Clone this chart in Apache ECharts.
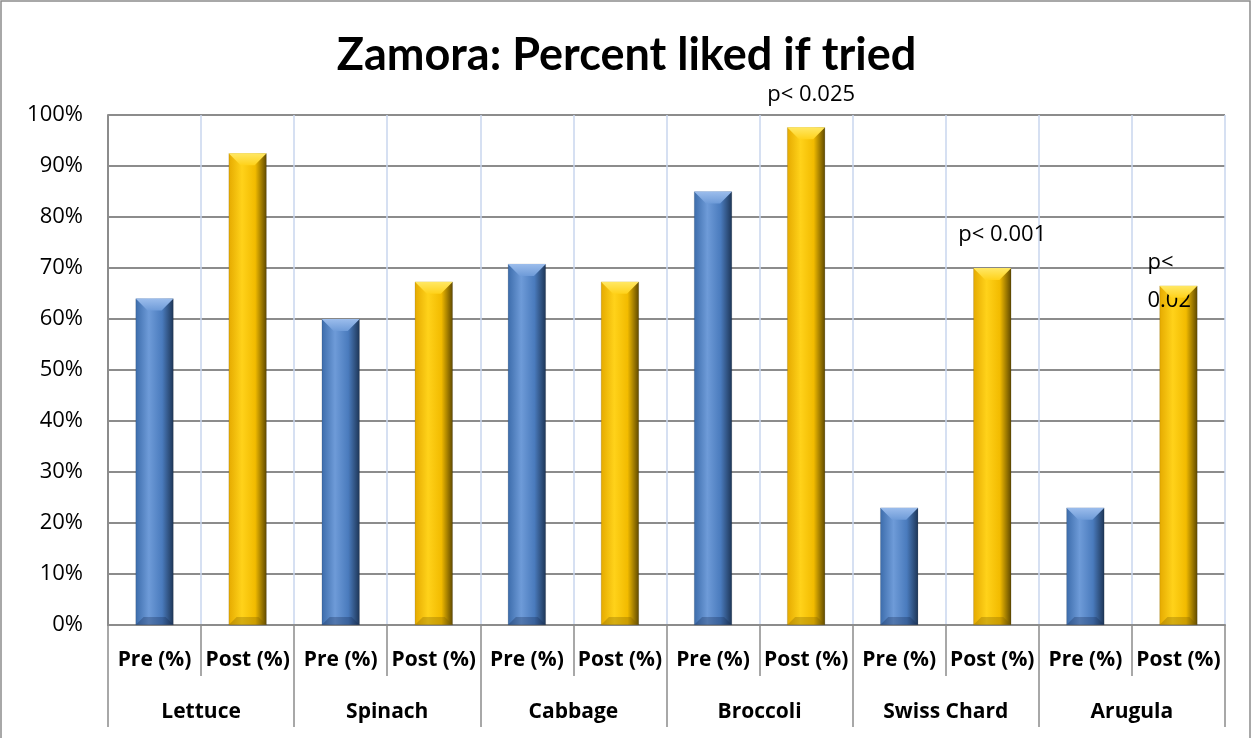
<!DOCTYPE html>
<html>
<head>
<meta charset="utf-8">
<script src="https://cdn.jsdelivr.net/npm/echarts@6/dist/echarts.min.js"></script>
<style>
  html, body { margin: 0; padding: 0; background: #fff; }
  #chart { width: 1253px; height: 738px; }
</style>
</head>
<body>
<div id="chart"></div>
<script>
// categories
const vegetables = ['Lettuce', 'Spinach', 'Cabbage', 'Broccoli', 'Swiss Chard', 'Arugula'];
const phases = ['Pre (%)', 'Post (%)'];
// values (percent)
const preValues = [64, 60, 70.8, 85, 23, 23];
const postValues = [92.5, 67.3, 67.3, 97.6, 70, 66.5];
// significance notes on Post bars
const notes = ['', '', '', 'p< 0.025', 'p< 0.001', 'p<\n0.02'];
const yTicks = [0, 10, 20, 30, 40, 50, 60, 70, 80, 90, 100];

const font = '"Open Sans", sans-serif';
const BAR_W = 38;

const blueFill = new echarts.graphic.LinearGradient(0, 0, 1, 0, [
  {offset: 0, color: '#3c6cab'},
  {offset: 0.35, color: '#6e9bd8'},
  {offset: 0.7, color: '#4a7bbd'},
  {offset: 1, color: '#1d3556'}
]);
const goldFill = new echarts.graphic.LinearGradient(0, 0, 1, 0, [
  {offset: 0, color: '#e5aa00'},
  {offset: 0.35, color: '#ffd21a'},
  {offset: 0.7, color: '#f2bb00'},
  {offset: 1, color: '#5e4800'}
]);

const labels12 = [];
const barData = [];
const capData = [];
vegetables.forEach((v, i) => {
  labels12.push(phases[0], phases[1]);
  barData.push({value: preValues[i], itemStyle: {color: blueFill}});
  capData.push([i * 2, preValues[i], 0]);
  const post = {value: postValues[i], itemStyle: {color: goldFill}};
  if (notes[i]) {
    const last = i === vegetables.length - 1;
    post.label = {
      show: true,
      formatter: notes[i],
      position: 'top',
      distance: last ? -34 : 14,
      offset: last ? [-31, 0] : [i === 4 ? 10 : 5, 0],
      align: last ? 'left' : 'center',
      fontSize: 22,
      lineHeight: 38,
      fontFamily: font,
      color: '#000'
    };
  }
  barData.push(post);
  capData.push([i * 2 + 1, postValues[i], 1]);
});

// bevel caps drawn on top of each bar
function renderCap(params, api) {
  const top = api.coord([api.value(0), api.value(1)]);
  const base = api.coord([api.value(0), 0]);
  const gold = api.value(2) === 1;
  const x = top[0] - BAR_W / 2;
  const b = 12;
  const light = gold ? '#ffe866' : '#9cbdec';
  const dark = gold ? 'rgba(120,90,0,0.3)' : 'rgba(20,40,80,0.3)';
  return {
    type: 'group',
    children: [{
      type: 'polygon',
      shape: {points: [[x, top[1]], [x + BAR_W, top[1]], [x + BAR_W - b, top[1] + b], [x + b, top[1] + b]]},
      style: {fill: new echarts.graphic.LinearGradient(0, 0, 0, 1, [
        {offset: 0, color: light}, {offset: 1, color: gold ? '#ffd21a' : '#6e9bd8'}
      ])}
    }, {
      type: 'polygon',
      shape: {points: [[x, base[1]], [x + BAR_W, base[1]], [x + BAR_W - 8, base[1] - 8], [x + 8, base[1] - 8]]},
      style: {fill: dark}
    }]
  };
}

const chart = echarts.init(document.getElementById('chart'));
chart.setOption({
  backgroundColor: '#fff',
  animation: false,
  title: {
    text: 'Zamora: Percent liked if tried',
    left: 'center',
    top: 28,
    textStyle: {fontSize: 45, fontWeight: 'bold', fontFamily: 'Lato, sans-serif', color: '#000'}
  },
  graphic: [{
    type: 'rect',
    shape: {x: 1, y: 1, width: 1249, height: 740},
    style: {fill: 'none', stroke: '#8c8c8c', lineWidth: 1.5},
    silent: true
  }],
  grid: {left: 108, right: 28, top: 115, bottom: 113},
  xAxis: [{
    type: 'category',
    data: labels12,
    position: 'bottom',
    axisLine: {show: true, lineStyle: {color: '#8c8c8c', width: 2}},
    axisTick: {show: true, length: 51, lineStyle: {color: '#8c8c8c', width: 1.5}},
    axisLabel: {margin: 25, fontSize: 21, fontWeight: 'bold', fontFamily: font, color: '#000', interval: 0},
    splitLine: {show: true, lineStyle: {color: '#c9d6ee', width: 1.5}}
  }, {
    type: 'category',
    data: vegetables,
    position: 'bottom',
    axisLine: {show: false},
    axisTick: {show: true, length: 102, lineStyle: {color: '#8c8c8c', width: 1.5}},
    axisLabel: {margin: 77, fontSize: 21, fontWeight: 'bold', fontFamily: font, color: '#000', interval: 0},
    splitLine: {show: false}
  }],
  yAxis: {
    type: 'value',
    min: yTicks[0],
    max: yTicks[yTicks.length - 1],
    interval: 10,
    axisLine: {show: true, lineStyle: {color: '#8c8c8c', width: 2}},
    axisTick: {show: false},
    axisLabel: {formatter: '{value}%', fontSize: 22, fontFamily: font, color: '#000', margin: 25},
    splitLine: {show: true, lineStyle: {color: '#8c8c8c', width: 2}}
  },
  series: [{
    type: 'bar',
    xAxisIndex: 0,
    data: barData,
    barWidth: BAR_W,
    itemStyle: {borderColor: 'rgba(0,0,0,0.25)', borderWidth: 0.5}
  }, {
    type: 'custom',
    xAxisIndex: 0,
    data: capData,
    renderItem: renderCap,
    silent: true,
    z: 3
  }]
});
</script>
</body>
</html>
